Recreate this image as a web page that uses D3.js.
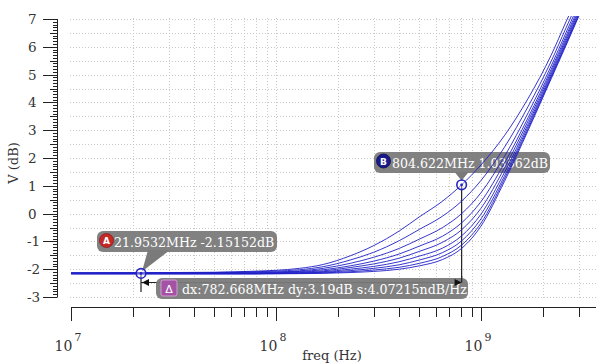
<!DOCTYPE html>
<html><head><meta charset="utf-8">
<script src="https://cdn.jsdelivr.net/npm/d3@7"></script>
<style>html,body{margin:0;padding:0;background:#fff;} svg{display:block;}</style>
</head><body>
<svg id="chart" width="596" height="363"></svg>
<script>
// Frequency sweep points (Hz) shared by every trace
const freqs = [1e7, 3e7, 5e7, 8e7, 1e8, 1.3e8, 1.7e8, 2.3e8, 3e8, 4e8, 5e8, 6.5e8, 8.05e8, 1e9, 1.3e9, 1.7e9, 2.2e9, 2.6e9, 3e9];

// Gain traces (dB), one per parameter step
const sweep1 = [-2.13,-2.12,-2.11,-2.07,-2.04,-1.97,-1.83,-1.52,-1.15,-0.62,-0.12, 0.45, 1.036, 1.75, 2.80, 4.15, 5.70, 6.90, 7.90];
const sweep2 = [-2.135,-2.13,-2.12,-2.09,-2.07,-2.02,-1.91,-1.67,-1.39,-0.97,-0.57,-0.09, 0.45, 1.19, 2.38, 3.86, 5.48, 6.68, 7.70];
const sweep3 = [-2.14,-2.135,-2.13,-2.11,-2.10,-2.06,-1.97,-1.79,-1.57,-1.25,-0.92,-0.50, 0.00, 0.75, 2.05, 3.63, 5.31, 6.51, 7.54];
const sweep4 = [-2.145,-2.14,-2.14,-2.13,-2.11,-2.08,-2.02,-1.88,-1.71,-1.45,-1.17,-0.81,-0.33, 0.43, 1.81, 3.46, 5.19, 6.39, 7.42];
const sweep5 = [-2.15,-2.15,-2.15,-2.14,-2.13,-2.10,-2.06,-1.94,-1.81,-1.60,-1.36,-1.03,-0.58, 0.19, 1.63, 3.34, 5.10, 6.30, 7.33];
const sweep6 = [-2.155,-2.155,-2.155,-2.15,-2.14,-2.12,-2.09,-2.00,-1.90,-1.73,-1.53,-1.24,-0.80,-0.02, 1.47, 3.23, 5.02, 6.22, 7.26];
const sweep7 = [-2.16,-2.16,-2.16,-2.16,-2.15,-2.14,-2.11,-2.05,-1.97,-1.84,-1.67,-1.40,-0.98,-0.19, 1.34, 3.14, 4.95, 6.15, 7.19];
const sweep8 = [-2.165,-2.165,-2.165,-2.165,-2.16,-2.15,-2.13,-2.09,-2.03,-1.93,-1.79,-1.54,-1.13,-0.34, 1.24, 3.06, 4.90, 6.10, 7.14];
const sweep9 = [-2.17,-2.17,-2.17,-2.17,-2.165,-2.16,-2.15,-2.12,-2.08,-2.00,-1.88,-1.65,-1.25,-0.45, 1.15, 3.00, 4.85, 6.05, 7.10];
const sweeps = [sweep1, sweep2, sweep3, sweep4, sweep5, sweep6, sweep7, sweep8, sweep9];

// Axis ticks
const yTickValues = [-3, -2, -1, 0, 1, 2, 3, 4, 5, 6, 7];
const xDecades = [7, 8, 9];

// Cursor markers
const markerA = {name: "A", freq: 21.9532e6, db: -2.15152, text: "21.9532MHz -2.15152dB"};
const markerB = {name: "B", freq: 804.622e6, db: 1.03562, text: "804.622MHz 1.03562dB"};
const deltaText = "dx:782.668MHz dy:3.19dB s:4.07215ndB/Hz";

const svg = d3.select("#chart");
const FONT = "'DejaVu Serif', serif";

const x = d3.scaleLog().domain([1e7, 3.64e9]).range([71, 596]);
const y = d3.scaleLinear().domain([-3, 7]).range([297, 19]);

// minor frequency positions (1..9 x decade)
const freqGrid = [];
for (let e = 7; e <= 9; e++) for (let k = 1; k <= 9; k++) {
  const f = k * Math.pow(10, e);
  if (f <= 3.64e9) freqGrid.push({f, major: k === 1});
}

// ---- grid ----
const grid = svg.append("g").attr("stroke", "#c9c9c9").attr("stroke-width", 1).attr("stroke-dasharray", "1,2");
grid.selectAll("line.h").data(d3.range(-3, 7.01, 0.5)).join("line")
  .attr("x1", 70).attr("x2", 596)
  .attr("y1", d => Math.round(y(d)) + 0.5).attr("y2", d => Math.round(y(d)) + 0.5);
grid.selectAll("line.v").data(freqGrid.filter(d => d.f > 1e7)).join("line")
  .attr("y1", 18).attr("y2", 298)
  .attr("x1", d => Math.round(x(d.f)) + 0.5).attr("x2", d => Math.round(x(d.f)) + 0.5);

// ---- y axis ----
const yAxis = svg.append("g").attr("stroke", "#222").attr("stroke-width", 1);
yAxis.append("line").attr("x1", 57.5).attr("x2", 57.5).attr("y1", y(7)).attr("y2", y(-3));
yAxis.selectAll("line.t").data(d3.range(-30, 71, 1).map(d => d / 10)).join("line")
  .attr("y1", d => Math.round(y(d)) + 0.5).attr("y2", d => Math.round(y(d)) + 0.5)
  .attr("x2", 57.5)
  .attr("x1", d => Number.isInteger(d) ? 43 : (Math.abs(d * 2 - Math.round(d * 2)) < 1e-6 ? 50 : 53));
svg.append("g").selectAll("text").data(yTickValues).join("text")
  .attr("x", d => d < 0 ? 27 : 28).attr("y", d => y(d) + 5)
  .attr("text-anchor", "start").attr("font-family", FONT).attr("font-size", 13.5).attr("fill", "#333")
  .text(d => d);
svg.append("text").attr("transform", "translate(18,163) rotate(-90)")
  .attr("text-anchor", "middle").attr("font-family", FONT).attr("font-size", 13).attr("fill", "#333")
  .text("V (dB)");

// ---- x axis ----
const xAxis = svg.append("g").attr("stroke", "#222").attr("stroke-width", 1);
xAxis.append("line").attr("x1", 71).attr("x2", 596).attr("y1", 307.5).attr("y2", 307.5);
xAxis.selectAll("line.t").data(freqGrid).join("line")
  .attr("x1", d => Math.round(x(d.f)) + 0.5).attr("x2", d => Math.round(x(d.f)) + 0.5)
  .attr("y1", 307.5).attr("y2", d => d.major ? 321 : 317);
const xl = svg.append("g").attr("font-family", FONT).attr("fill", "#333");
xDecades.forEach(e => {
  const t = xl.append("text").attr("x", x(Math.pow(10, e)) - 3).attr("y", 351)
    .attr("text-anchor", "middle").attr("font-size", 14);
  t.append("tspan").text("10");
  t.append("tspan").attr("dy", -10).attr("dx", 2).attr("font-size", 11).text(e);
});
svg.append("text").attr("x", 332).attr("y", 360).attr("text-anchor", "middle")
  .attr("font-family", FONT).attr("font-size", 13).attr("fill", "#333").text("freq (Hz)");

// ---- label boxes (traces are drawn over them) ----
const ax = x(markerA.freq), ay = y(markerA.db);
const bx = x(markerB.freq), by = y(markerB.db);
const arrowY = 282.5;
const boxFill = "#7a7a7a";
function labelBox(x0, y0, w, h) {
  svg.append("rect").attr("x", x0).attr("y", y0).attr("width", w).attr("height", h)
    .attr("rx", 6).attr("fill", boxFill).attr("fill-opacity", 0.95);
}

// delta dimension lines sit beneath the delta box
const ann = svg.append("g").attr("stroke", "#222").attr("stroke-width", 1.2);
ann.append("line").attr("x1", ax).attr("x2", ax).attr("y1", ay).attr("y2", 292);
ann.append("line").attr("x1", ax).attr("x2", bx).attr("y1", arrowY).attr("y2", arrowY);
ann.append("line").attr("x1", bx).attr("x2", bx).attr("y1", by).attr("y2", arrowY);
svg.append("path").attr("fill", "#111")
  .attr("d", `M${ax + 1},${arrowY} l7,-3.5 l0,7 z`);

// Marker A label with pointer
svg.append("path").attr("fill", boxFill).attr("d", `M148,250 L170,250 L${ax + 1},${ay - 2} Z`);
labelBox(97, 231, 180, 21);
svg.append("circle").attr("cx", 106.5).attr("cy", 240.5).attr("r", 7).attr("fill", "#c62828").attr("stroke", "#8e1a1a").attr("stroke-width", 0.8);
svg.append("text").attr("x", 106.5).attr("y", 244).attr("text-anchor", "middle")
  .attr("font-family", "'DejaVu Sans', sans-serif").attr("font-weight", "bold").attr("font-size", 9).attr("fill", "#fff").text(markerA.name);
svg.append("text").attr("x", 114).attr("y", 247).attr("font-family", FONT).attr("font-size", 12.6).attr("fill", "#fff").text(markerA.text);

// Marker B label with pointer
svg.append("path").attr("fill", boxFill).attr("d", `M${bx - 7},172 L${bx + 7},172 L${bx},${by - 4} Z`);
labelBox(374, 152, 176, 21);
svg.append("circle").attr("cx", 383.5).attr("cy", 161).attr("r", 7).attr("fill", "#1a1a8a").attr("stroke", "#0d0d55").attr("stroke-width", 0.8);
svg.append("text").attr("x", 383.5).attr("y", 164.5).attr("text-anchor", "middle")
  .attr("font-family", "'DejaVu Sans', sans-serif").attr("font-weight", "bold").attr("font-size", 9).attr("fill", "#fff").text(markerB.name);
svg.append("text").attr("x", 392).attr("y", 167.5).attr("font-family", FONT).attr("font-size", 12.6).attr("fill", "#fff").text(markerB.text);

// Delta label
labelBox(156, 278, 312, 21);
svg.append("rect").attr("x", 161).attr("y", 280).attr("width", 16).attr("height", 16).attr("rx", 2)
  .attr("fill", "#a453a4").attr("stroke", "#d49ad4").attr("stroke-width", 1);
svg.append("text").attr("x", 169).attr("y", 292.5).attr("text-anchor", "middle")
  .attr("font-family", "'DejaVu Sans', sans-serif").attr("font-size", 11).attr("fill", "#fff").text("Δ");
svg.append("text").attr("x", 182).attr("y", 294).attr("font-family", FONT).attr("font-size", 12.6).attr("fill", "#fff").text(deltaText);
svg.append("line").attr("x1", bx).attr("x2", bx).attr("y1", 276).attr("y2", arrowY).attr("stroke", "#222").attr("stroke-width", 1.2);
svg.append("path").attr("fill", "#111").attr("d", `M${bx},${arrowY} l-7,-3.5 l0,7 z`);

// ---- traces ----
svg.append("clipPath").attr("id", "plotclip").append("rect")
  .attr("x", 70).attr("y", 16).attr("width", 526).attr("height", 284);
const line = d3.line().x(d => x(d[0])).y(d => y(d[1])).curve(d3.curveMonotoneX);
svg.append("g").attr("clip-path", "url(#plotclip)")
  .selectAll("path").data(sweeps).join("path")
  .attr("d", s => line(s.map((v, i) => [freqs[i], v])))
  .attr("fill", "none").attr("stroke", "#2020c8").attr("stroke-width", 1).attr("stroke-opacity", 0.9);

// ---- marker circles ----
[[ax, ay], [bx, by]].forEach(([cx, cy]) => {
  svg.append("circle").attr("cx", cx).attr("cy", cy).attr("r", 4.8)
    .attr("fill", "rgba(255,255,255,0.35)").attr("stroke", "#2424c0").attr("stroke-width", 1.6);
  svg.append("circle").attr("cx", cx).attr("cy", cy).attr("r", 1.4).attr("fill", "#2424c0");
});
</script>
</body></html>
